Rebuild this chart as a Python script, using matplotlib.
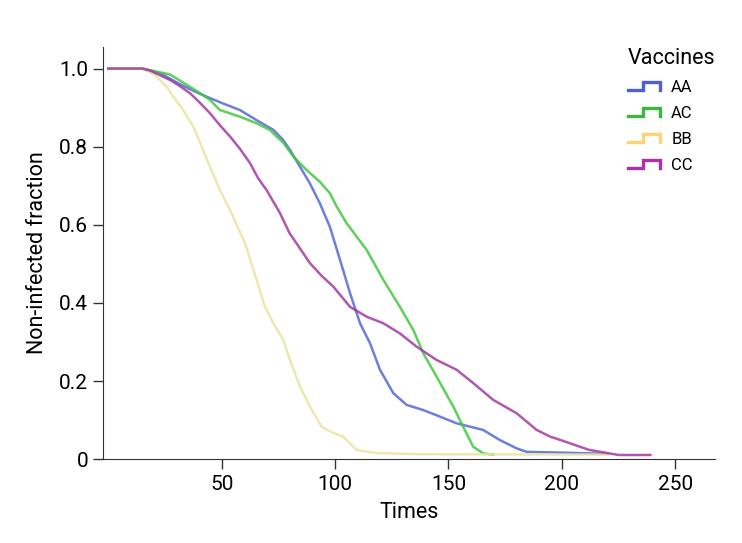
import matplotlib
matplotlib.use("Agg")
import matplotlib.pyplot as plt
from matplotlib.lines import Line2D
from matplotlib.legend_handler import HandlerBase

plt.rcParams['font.family'] = ['Roboto', 'DejaVu Sans']

# survival curves (time, fraction)
aa_t = [0, 15, 23, 30, 37.5, 43.4, 50, 58, 65.4, 72.8, 77, 80.1, 84.5, 88.9, 93.3, 97.7,
        102.2, 106.6, 111, 115.4, 119.8, 125.7, 131.6, 138.9, 146.3, 153.6, 165.3, 172.7,
        180, 184.5, 200, 220]
aa_s = [1.0, 1.0, 0.988, 0.965, 0.943, 0.928, 0.912, 0.894, 0.868, 0.843, 0.818, 0.792,
        0.749, 0.706, 0.655, 0.595, 0.51, 0.425, 0.348, 0.297, 0.229, 0.169, 0.139, 0.126,
        0.109, 0.092, 0.075, 0.049, 0.028, 0.019, 0.017, 0.014]

ac_t = [0, 15, 27.2, 37.5, 44.8, 49.2, 58, 65.4, 71.3, 74.2, 77.2, 81.6, 87.5, 93.3, 97.7,
        100.7, 105.1, 109.5, 113.9, 121.3, 128.6, 134.5, 138.9, 144.8, 152.1, 156.5,
        160.9, 165.3, 169.7]
ac_s = [1.0, 1.0, 0.985, 0.948, 0.92, 0.894, 0.877, 0.86, 0.843, 0.826, 0.81, 0.775, 0.74,
        0.71, 0.681, 0.647, 0.604, 0.57, 0.536, 0.459, 0.39, 0.331, 0.271, 0.211, 0.135,
        0.083, 0.032, 0.015, 0.012]

bb_t = [0, 15, 20.6, 25.7, 28.7, 33, 37.5, 41.2, 44.8, 49.2, 53.7, 57, 60.3, 65.4, 69.1,
        72.8, 77.2, 80.1, 84.5, 88.9, 94.1, 99, 103.6, 106.6, 109.5, 118, 136, 220]
bb_s = [1.0, 1.0, 0.983, 0.954, 0.928, 0.894, 0.851, 0.8, 0.749, 0.689, 0.638, 0.595,
        0.553, 0.459, 0.39, 0.348, 0.305, 0.254, 0.186, 0.135, 0.083, 0.068, 0.058, 0.041,
        0.024, 0.016, 0.013, 0.012]

cc_t = [0, 15, 18.4, 27.2, 31.6, 36, 40, 44.8, 49.2, 53.7, 58, 62.5, 66, 69.8, 75.7,
        80, 84.5, 88.9, 94, 99.2, 106.6, 113.9, 121.3, 128.6, 136, 144.8, 153.6, 160.9,
        169.7, 180, 188.9, 194.8, 199, 212, 225, 239]
cc_s = [1.0, 1.0, 0.995, 0.971, 0.955, 0.937, 0.915, 0.886, 0.855, 0.826, 0.795, 0.758,
        0.72, 0.689, 0.63, 0.578, 0.54, 0.502, 0.47, 0.442, 0.39, 0.365, 0.348, 0.322,
        0.288, 0.254, 0.229, 0.195, 0.152, 0.118, 0.075, 0.058, 0.05, 0.024, 0.011, 0.011]

names = ['AA', 'AC', 'BB', 'CC']
line_colors = ['#5468d8', '#40c840', '#ece3a0', '#a33aa3']
legend_colors = ['#4f5fd6', '#3bb83b', '#ffd27a', '#b02fb0']
series = [(aa_t, aa_s), (ac_t, ac_s), (bb_t, bb_s), (cc_t, cc_s)]


class StepHandler(HandlerBase):
    def create_artists(self, legend, orig_handle, xdescent, ydescent,
                       width, height, fontsize, trans):
        lo = 0.15 * height - ydescent
        hi = 0.8 * height - ydescent
        x0 = -xdescent
        xs = [x0, x0 + 0.45 * width, x0 + 0.45 * width, x0 + width, x0 + width]
        ys = [lo, lo, hi, hi, lo]
        ln = Line2D(xs, ys, color=orig_handle.get_color(), lw=2.4,
                    solid_joinstyle='miter', transform=trans)
        return [ln]


fig = plt.figure(figsize=(7.42, 5.43), dpi=100)
ax = fig.add_axes([0.1392, 0.1542, 0.8244, 0.7598])

for (t, s), c in zip(series, line_colors):
    ax.plot(t, s, color=c, lw=1.8, alpha=0.85)
handles = [Line2D([], [], color=c, label=n) for c, n in zip(legend_colors, names)]

ax.set_xlim(-2.2, 267.5)
ax.set_ylim(0, 1.056)
ax.set_xticks([50, 100, 150, 200, 250])
ax.set_yticks([0, 0.2, 0.4, 0.6, 0.8, 1.0])
ax.set_yticklabels(['0', '0.2', '0.4', '0.6', '0.8', '1.0'])
ax.tick_params(labelsize=15, length=7.5, width=1, color='#333333')
for side in ['top', 'right']:
    ax.spines[side].set_visible(False)
for side in ['left', 'bottom']:
    ax.spines[side].set_color('#333333')

ax.set_xlabel('Times', fontsize=15.5, labelpad=6)
ax.set_ylabel('Non-infected fraction', fontsize=15.5, labelpad=8)

leg = fig.legend(handles=handles, title='Vaccines', loc='upper left',
                 bbox_to_anchor=(0.826, 0.94), frameon=False, fontsize=12,
                 title_fontsize=15.5, handler_map={Line2D: StepHandler()},
                 handlelength=1.95, labelspacing=0.66, handletextpad=0.65)
leg._legend_box.align = 'left'

fig.savefig('out.png', dpi=100)
